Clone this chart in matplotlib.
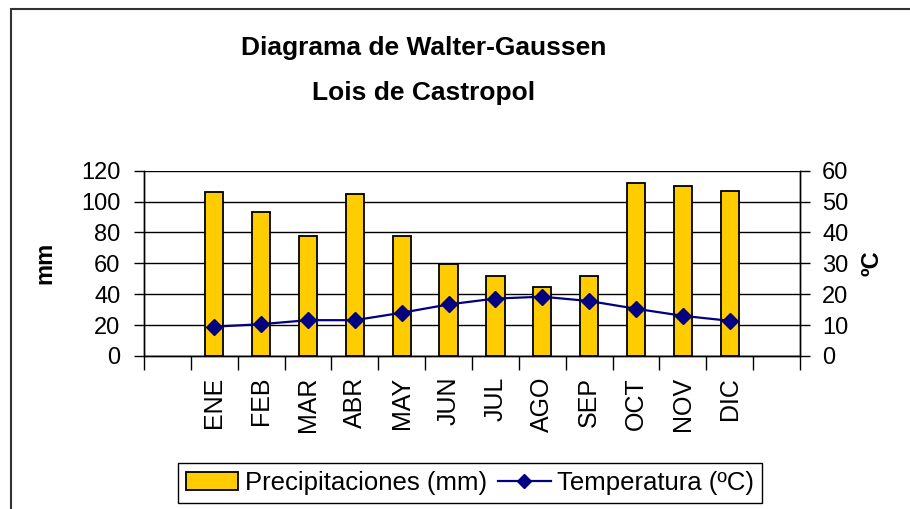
import matplotlib
matplotlib.use("Agg")
import matplotlib.pyplot as plt
import matplotlib.patches as mpatches
from matplotlib.lines import Line2D
import numpy as np

plt.rcParams['font.family'] = ['Liberation Sans', 'DejaVu Sans']

months = ["ENE", "FEB", "MAR", "ABR", "MAY", "JUN", "JUL", "AGO", "SEP", "OCT", "NOV", "DIC"]
precip = [106, 93, 77.5, 105, 77.5, 59.5, 51.5, 45, 51.5, 112, 110, 107]
temp = [9.5, 10.3, 11.6, 11.6, 14.0, 16.7, 18.6, 19.2, 17.8, 15.3, 13.0, 11.4]
y_left_ticks = [0, 20, 40, 60, 80, 100, 120]
y_right_ticks = [0, 10, 20, 30, 40, 50, 60]

W, H = 910, 509
fig = plt.figure(figsize=(W / 100, H / 100), dpi=100)

# outer chart border (extends past the right/bottom of the image)
border = mpatches.Rectangle((11 / W, -0.1), 1.2, 1 - 9 / H + 0.1, transform=fig.transFigure,
                            fill=False, edgecolor='#333333', linewidth=1.5, clip_on=False)
fig.patches.append(border)

ax = fig.add_axes([144 / W, 1 - 356 / H, (800 - 144) / W, (356 - 170.7) / H])
ax2 = ax.twinx()

# 14 category slots: empty, 12 months, empty
x = np.arange(1, len(months) + 1)
ax.bar(x, precip, width=0.39, color='#FFCC00', edgecolor='black', linewidth=1.3, zorder=3)
ax2.plot(x, temp, color='#000080', linewidth=1.6, marker='D', markersize=8,
         markerfacecolor='#000080', markeredgecolor='#000080', zorder=4)

ax.set_xlim(-0.5, 13.5)
ax.set_ylim(0, 120)
ax2.set_ylim(0, 60)

ax.set_yticks(y_left_ticks)
ax.set_yticklabels([str(v) for v in y_left_ticks], fontsize=17)
ax2.set_yticks(y_right_ticks)
ax2.set_yticklabels([str(v) for v in y_right_ticks], fontsize=17)

ax.set_xticks(x)
ax.set_xticklabels(months, rotation=90, fontsize=18)
ax.set_xticks(np.arange(-0.5, 14, 1), minor=True)
ax.tick_params(axis='x', which='major', length=0, pad=15)
ax.tick_params(axis='x', which='minor', length=10, width=1, color='black')
ax.tick_params(axis='y', length=7, width=1, pad=10)
ax2.tick_params(axis='y', length=7, width=1, pad=9)

ax.yaxis.grid(True, color='black', linewidth=1)
ax.set_axisbelow(True)
for a in (ax, ax2):
    a.spines['top'].set_visible(False)
    for s in ('left', 'right', 'bottom'):
        a.spines[s].set_linewidth(1)
        a.spines[s].set_color('black')
ax.patch.set_visible(False)
ax2.set_zorder(ax.get_zorder() + 1)
ax2.patch.set_visible(False)

fig.text(45 / W, 1 - 263 / H, "mm", rotation=90, fontsize=17, fontweight='bold',
         ha='center', va='center')
fig.text(872 / W, 1 - 263 / H, "ºC", rotation=90, fontsize=17, fontweight='bold',
         ha='center', va='center')

fig.text(424 / W, 1 - 48 / H, "Diagrama de Walter-Gaussen", fontsize=19, fontweight='bold',
         ha='center', va='center')
fig.text(424 / W, 1 - 93 / H, "Lois de Castropol", fontsize=19, fontweight='bold',
         ha='center', va='center')

handles = [mpatches.Patch(facecolor='#FFCC00', edgecolor='black', linewidth=1.3),
           Line2D([0], [0], color='#000080', linewidth=1.6, marker='D', markersize=7,
                  markerfacecolor='#000080')]
leg = fig.legend(handles, ["Precipitaciones (mm)", "Temperatura (ºC)"], loc='center',
                 bbox_to_anchor=(470 / W, 1 - 483 / H), ncol=2, fontsize=18.5, frameon=True,
                 fancybox=False, edgecolor='black', framealpha=1, borderpad=0.3,
                 handlelength=2.06, handletextpad=0.27, columnspacing=0.39, borderaxespad=0)
leg.get_frame().set_linewidth(1)

fig.savefig("out.png", dpi=100)
